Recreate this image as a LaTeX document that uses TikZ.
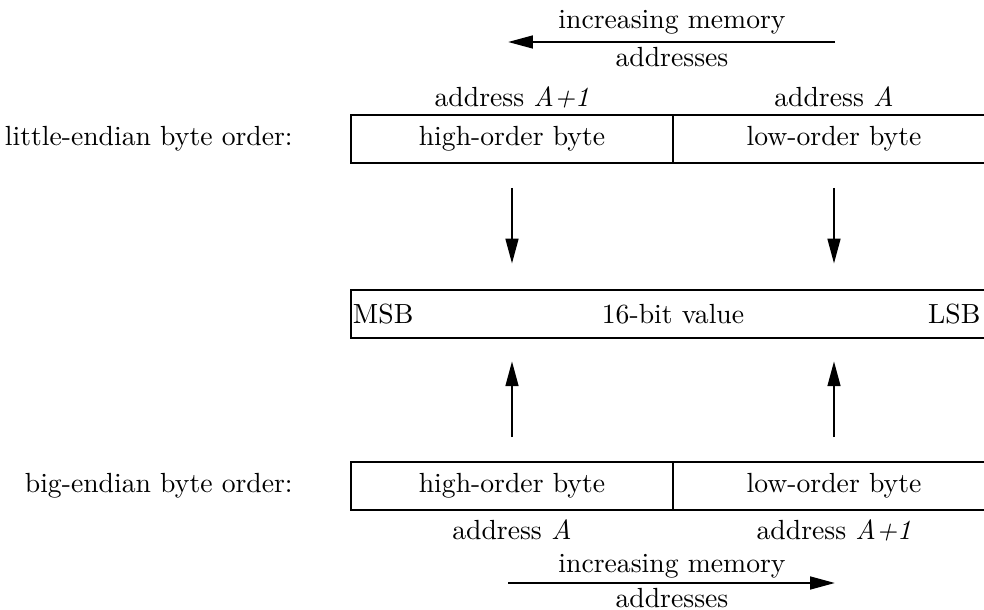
\documentclass[tikz,border=0pt]{standalone}
\usetikzlibrary{arrows.meta,positioning}

\begin{document}
\begin{tikzpicture}[x=0.0127cm,y=-0.0127cm,
  cell/.style={draw,line width=0.85pt,inner sep=0pt,minimum width=4.09cm,minimum height=0.61cm},
  arr/.style={line width=0.85pt,-{Triangle[length=9pt,width=4.6pt]}}]
\clip (0,0) rectangle (984,610);

% little-endian
\node[cell] (lhi) at (512,139) {high-order byte};
\node[cell] (llo) at (834,139) {low-order byte};
\node (ladr1) at (512,97) {address \textit{A+1}};
\node (ladr0) at (834,97) {address \textit{A}};
\node[left=0.6cm of lhi] (ltitle) {little-endian byte order:};
\node (ltop) at (672,22) {increasing memory};
\node (lbot) at (672,57) {addresses};
\coordinate (lstart) at (835,42);
\coordinate (lend) at (508,42);
\draw[arr] (lstart) -- (lend);

% value
\node[cell,minimum width=8.18cm] (val) at (673,314) {16-bit value};
\node[anchor=west,inner sep=1pt] (msb) at (val.west) {MSB};
\node[anchor=east,inner sep=1pt] (lsb) at ([xshift=-0.16cm]val.east) {LSB};

% big-endian
\node[cell] (bhi) at (512,486) {high-order byte};
\node[cell] (blo) at (834,486) {low-order byte};
\node (badr0) at (512,530) {address \textit{A}};
\node (badr1) at (834,530) {address \textit{A+1}};
\node[left=0.6cm of bhi] (btitle) {big-endian byte order:};
\node (btop) at (672,566) {increasing memory};
\node[inner sep=1pt] (bbot) at (672,598) {addresses};
\coordinate (bstart) at (508,583);
\coordinate (bend) at (835,583);
\draw[arr] (bstart) -- (bend);

\draw[arr,shorten <=0.3cm,shorten >=0.32cm] (lhi.south) -- (lhi.south |- val.north);
\draw[arr,shorten <=0.3cm,shorten >=0.32cm] (llo.south) -- (llo.south |- val.north);
\draw[arr,shorten <=0.3cm,shorten >=0.28cm] (bhi.north) -- (bhi.north |- val.south);
\draw[arr,shorten <=0.3cm,shorten >=0.28cm] (blo.north) -- (blo.north |- val.south);

\end{tikzpicture}
\end{document}
